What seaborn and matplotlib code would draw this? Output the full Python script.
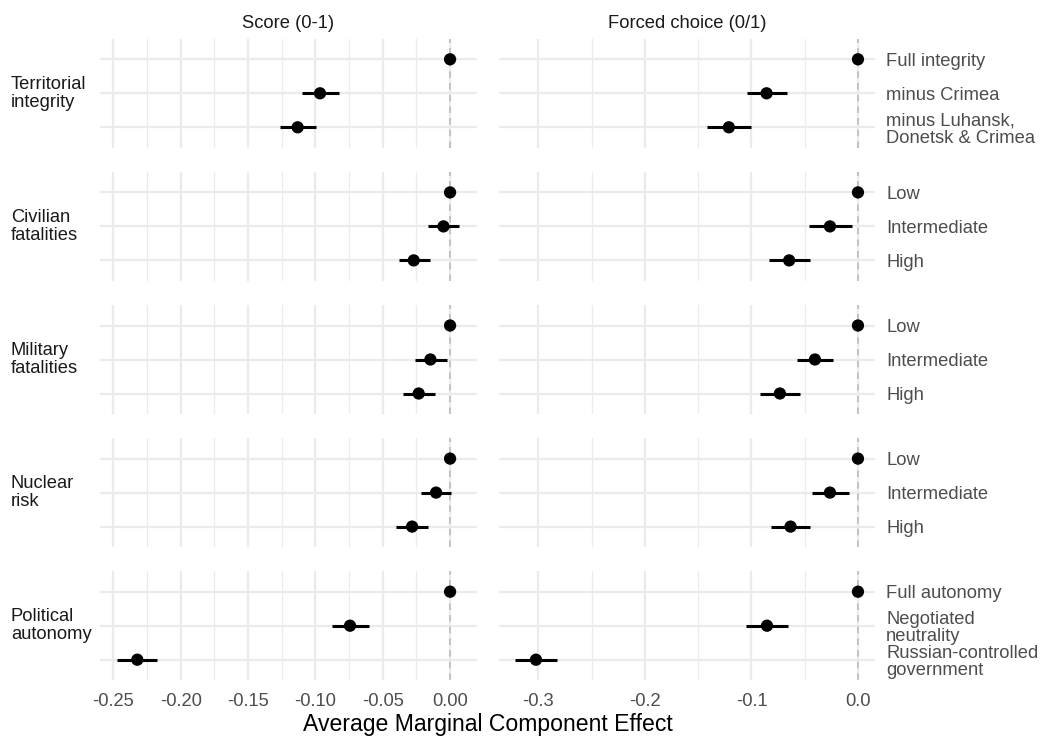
import matplotlib
matplotlib.use("Agg")
import matplotlib.pyplot as plt
import numpy as np
import pandas as pd
import seaborn as sns
from matplotlib.ticker import MultipleLocator, FuncFormatter

# ---- data -------------------------------------------------------------
attributes = ["Territorial integrity", "Civilian fatalities", "Military fatalities",
              "Nuclear risk", "Political autonomy"]
attribute_labels = ["Territorial\nintegrity", "Civilian\nfatalities", "Military\nfatalities",
                    "Nuclear\nrisk", "Political\nautonomy"]
levels = [
    ["Full integrity", "minus Crimea", "minus Luhansk,\nDonetsk & Crimea"],
    ["Low", "Intermediate", "High"],
    ["Low", "Intermediate", "High"],
    ["Low", "Intermediate", "High"],
    ["Full autonomy", "Negotiated\nneutrality", "Russian-controlled\ngovernment"],
]
outcomes = ["Score (0-1)", "Forced choice (0/1)"]

# AMCE estimates and 95% intervals, one entry per level (attributes in order)
score_est = [0.0, -0.0966, -0.1132,
             0.0, -0.0049, -0.0270,
             0.0, -0.0146, -0.0233,
             0.0, -0.0104, -0.0282,
             0.0, -0.0743, -0.2323]
score_lo = [0.0, -0.1097, -0.1263,
            0.0, -0.0166, -0.0381,
            0.0, -0.0258, -0.0352,
            0.0, -0.0215, -0.0399,
            0.0, -0.0877, -0.2472]
score_hi = [0.0, -0.0827, -0.0996,
            0.0, 0.0069, -0.0151,
            0.0, -0.0025, -0.0111,
            0.0, 0.0005, -0.0161,
            0.0, -0.0604, -0.2175]

forced_est = [0.0, -0.0858, -0.1212,
              0.0, -0.0263, -0.0646,
              0.0, -0.0404, -0.0733,
              0.0, -0.0263, -0.0633,
              0.0, -0.0854, -0.3023]
forced_lo = [0.0, -0.1046, -0.1416,
             0.0, -0.0457, -0.0836,
             0.0, -0.0576, -0.0915,
             0.0, -0.0432, -0.0818,
             0.0, -0.1053, -0.3222]
forced_hi = [0.0, -0.0670, -0.1008,
             0.0, -0.0060, -0.0451,
             0.0, -0.0232, -0.0545,
             0.0, -0.0088, -0.0451,
             0.0, -0.0656, -0.2821]

# ---- tidy frame -------------------------------------------------------
records = []
for outcome, est, lo, hi in [(outcomes[0], score_est, score_lo, score_hi),
                             (outcomes[1], forced_est, forced_lo, forced_hi)]:
    k = 0
    for i, attr in enumerate(attributes):
        for j, lev in enumerate(levels[i]):
            records.append(dict(outcome=outcome, attribute=attr, level=lev, pos=j,
                                est=est[k], lo=lo[k], hi=hi[k]))
            k += 1
df = pd.DataFrame(records)

# ---- style ------------------------------------------------------------
sns.set_theme(style="whitegrid")
plt.rcParams["font.family"] = ["Liberation Sans", "DejaVu Sans"]
plt.rcParams["axes.unicode_minus"] = False

GRID = "#EBEBEB"
TICK_COL = "#4D4D4D"
FS = 13.2
LSP = 1.05

W, H = 1044, 740
fig = plt.figure(figsize=(W / 100, H / 100), dpi=100)

col_px = [(100, 477), (499, 875)]
top0, row_step, panel_h = 38.9, 133.1, 108.8
xlims = [(-0.260, 0.020), (-0.337, 0.016)]
majors = [0.05, 0.1]
fmts = ["{:.2f}", "{:.1f}"]


def make_fmt(fmt):
    def f(v, _):
        if abs(v) < 1e-12:
            v = 0.0
        return fmt.format(v)
    return FuncFormatter(f)


for i, attr in enumerate(attributes):
    top = top0 + i * row_step
    for c, outcome in enumerate(outcomes):
        x0, x1 = col_px[c]
        ax = fig.add_axes([x0 / W, 1 - (top + panel_h) / H, (x1 - x0) / W, panel_h / H])
        sub = df[(df.outcome == outcome) & (df.attribute == attr)]

        ax.axvline(0, color="#BDBDBD", lw=1.2, ls=(0, (4, 3)), zorder=1)
        ax.hlines(sub["pos"], sub["lo"], sub["hi"], color="black", lw=2.2, zorder=3)
        sns.scatterplot(data=sub, x="est", y="pos", color="black", s=78,
                        edgecolor="none", linewidth=0, ax=ax, zorder=4, legend=False)

        ax.set_xlim(*xlims[c])
        ax.set_ylim(2.6, -0.6)
        ax.set_xlabel("")
        ax.set_ylabel("")

        ax.xaxis.set_major_locator(MultipleLocator(majors[c]))
        ax.xaxis.set_minor_locator(MultipleLocator(majors[c] / 2))
        ax.xaxis.set_major_formatter(make_fmt(fmts[c]))
        ax.set_yticks([0, 1, 2])

        ax.grid(which="major", color=GRID, lw=1.6)
        ax.grid(which="minor", axis="x", color=GRID, lw=0.9)
        ax.set_axisbelow(True)
        for s in ax.spines.values():
            s.set_visible(False)
        ax.set_facecolor("white")

        ax.tick_params(axis="both", which="both", length=0, colors=TICK_COL, labelsize=FS)
        ax.tick_params(axis="x", pad=9)
        if i < len(attributes) - 1:
            ax.set_xticklabels([])

        if c == 1:
            ax.yaxis.tick_right()
            ax.set_yticklabels(levels[i])
            ax.tick_params(axis="y", pad=8)
            for t in ax.get_yticklabels():
                t.set_linespacing(LSP)
                t.set_color(TICK_COL)
        else:
            ax.set_yticklabels([])

    # row strip on the left
    yc = top + panel_h / 2
    fig.text(11 / W, 1 - yc / H, attribute_labels[i], ha="left", va="center",
             fontsize=FS, color="#1A1A1A", linespacing=LSP)

# column strips
for c, outcome in enumerate(outcomes):
    x0, x1 = col_px[c]
    fig.text((x0 + x1) / 2 / W, 1 - 23 / H, outcome, ha="center", va="center",
             fontsize=FS, color="#1A1A1A")

fig.text(487.5 / W, 1 - 725 / H, "Average Marginal Component Effect",
         ha="center", va="center", fontsize=16.6, color="black")

fig.savefig("out.png", dpi=100, facecolor="white")
